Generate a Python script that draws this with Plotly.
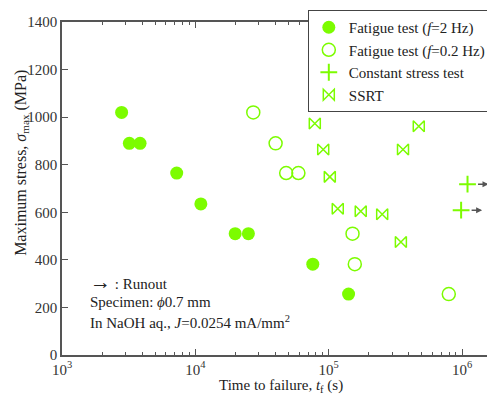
import math
import plotly.graph_objects as go

GREEN = "#7CFC00"
AX = "#555555"
FONT = "Liberation Serif, Times New Roman, serif"

# Fatigue test f=2 Hz (filled circles)
f2_t = [2800, 3200, 3850, 7250, 11000, 19900, 25000, 76000, 141000]
f2_s = [1020, 890, 890, 765, 635, 510, 510, 382, 256]

# Fatigue test f=0.2 Hz (open circles)
f02_t = [27200, 40000, 48000, 59300, 151000, 157000, 796000]
f02_s = [1020, 890, 765, 765, 510, 382, 256]

# Constant stress test (plus, runout)
cs_t = [1100000, 985000]
cs_s = [718, 609]

# SSRT (bowtie)
ss_t = [78700, 474000, 91000, 361000, 102000, 117000, 174000, 252000, 348000]
ss_s = [973, 962, 864, 864, 749, 615, 604, 592, 475]

x_major = [1e3, 1e4, 1e5, 1e6]
x_major_text = ["10<sup>3</sup>", "10<sup>4</sup>", "10<sup>5</sup>", "10<sup>6</sup>"]
x_minor = [m * d for d in (1e3, 1e4, 1e5) for m in range(2, 10)]

fig = go.Figure()
fig.add_trace(go.Scatter(x=f2_t, y=f2_s, mode="markers", name="Fatigue test (<i>f</i>=2 Hz)",
                         marker=dict(symbol="circle", size=13, color=GREEN)))
fig.add_trace(go.Scatter(x=f02_t, y=f02_s, mode="markers", name="Fatigue test (<i>f</i>=0.2 Hz)",
                         marker=dict(symbol="circle-open", size=13, color=GREEN, line=dict(width=1.5))))
fig.add_trace(go.Scatter(x=cs_t, y=cs_s, mode="markers", name="Constant stress test",
                         marker=dict(symbol="cross-thin-open", size=12, color=GREEN, line=dict(width=2, color=GREEN))))
fig.add_trace(go.Scatter(x=ss_t, y=ss_s, mode="markers", name="SSRT",
                         marker=dict(symbol="bowtie-open", size=11, color=GREEN, line=dict(width=1.5))))

# runout arrows
for t, s in zip(cs_t, cs_s):
    fig.add_annotation(x=math.log10(t), y=s, xref="x", yref="y", text="",
                       showarrow=True, ax=-12, ay=0, xshift=21, arrowhead=2, arrowsize=0.8,
                       arrowwidth=1.5, arrowcolor="#555")

notes = ["<span style='font-size:21px'>→</span> : Runout", "Specimen: <i>ϕ</i>0.7 mm",
         "In NaOH aq., <i>J</i>=0.0254 mA/mm<sup>2</sup>"]
for i, txt in enumerate(notes):
    fig.add_annotation(x=0.06, y=0.219 - 0.06 * i, xref="paper", yref="paper", text=txt,
                       showarrow=False, xanchor="left", yanchor="middle",
                       font=dict(family=FONT, size=15, color="#222"))

# axis titles as annotations
fig.add_annotation(x=-0.0926, y=0.577, xref="paper", yref="paper", textangle=-90,
                   text="Maximum stress, <i>σ</i><sub>max</sub> (MPa)", showarrow=False,
                   xanchor="center", yanchor="middle", font=dict(family=FONT, size=16, color="#222"))
fig.add_annotation(x=0.506, y=-0.092, xref="paper", yref="paper",
                   text="Time to failure, <i>t</i><sub>f</sub> (s)", showarrow=False,
                   xanchor="center", yanchor="middle", font=dict(family=FONT, size=15, color="#222"))

# page adds an 8px body margin, so the figure is 8px smaller and margins shifted
fig.update_layout(
    width=487, height=386,
    margin=dict(l=54, r=1, t=14, b=39, autoexpand=False),
    plot_bgcolor="white", paper_bgcolor="white",
    font=dict(family=FONT, size=15, color="#333"),
    showlegend=True,
    legend=dict(x=0.569, y=1.036, xanchor="left", yanchor="top", bgcolor="white",
                bordercolor="#444", borderwidth=1, font=dict(family=FONT, size=15, color="#222"),
                tracegroupgap=0, itemwidth=30),
)
fig.update_xaxes(type="log", range=[3, 6.24], tickvals=x_major, ticktext=x_major_text,
                 ticks="inside", ticklen=6, tickcolor=AX, showline=True, linecolor=AX, linewidth=1.5,
                 mirror="ticks", showgrid=False, zeroline=False, automargin=False,
                 tickfont=dict(family=FONT, size=15, color="#333"),
                 minor=dict(tickvals=x_minor, ticks="inside", ticklen=3, tickcolor=AX, showgrid=False))
fig.update_yaxes(range=[0, 1400], dtick=200, ticks="inside", ticklen=6, tickcolor=AX,
                 showline=True, linecolor=AX, linewidth=1.5, mirror="ticks", showgrid=False, zeroline=False,
                 automargin=False, tickfont=dict(family=FONT, size=15, color="#333"))

fig.write_html("out.html")
